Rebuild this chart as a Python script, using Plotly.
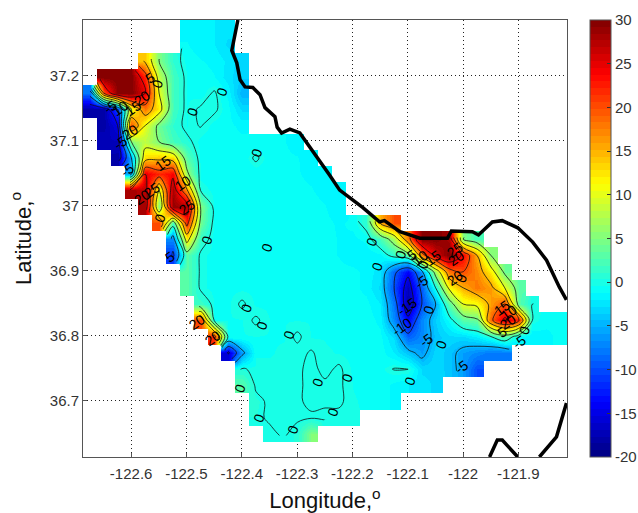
import plotly.graph_objects as go

FONT = "Liberation Sans"
LON_MIN, LON_MAX = -122.687, -121.812
LAT_MIN, LAT_MAX = 36.613, 37.286
CELL = 0.025
N_COLS, N_ROWS = 35, 27

# first occupied column of each grid row, from the north edge down
row_start = [7, 7, 4, 1, 0, 0, 1, 1, 2, 3, 3, 4, 5, 6, 6, 7, 7, 8, 8, 9, 10, 11, 11, 12, 12, 13]

# values read per grid row (colour scale -20..30)
row_values = [
    [-1.5, -2, -2, -2.5],
    [-1.2, -1.8, -2, -3],
    [14, 5, 1, -0.8, -1.2, -1.5, -2.2, -3.5],
    [30, 30, 30, 22, 8, 2, -0.5, -0.8, -1.2, -2.5, -3.5],
    [-8, 20, 30, 30, 25, 10, 2, -0.5, -0.8, 0.2, -1.5, -5],
    [-18, -18, -10, 10, 18, 12, 2, -0.5, 0.2, 0.3, -1, -3],
    [-18, -15, 20, 10, 4, 1, -0.5, 0.1, -0.8, -1, -1.5],
    [-17, -17, 5, 8, 5, 2, 0.5, -0.8, -1, -1, -1, -1.1, -1.1, -1.2, -1.6],
    [-18, -5, 13, 14, 13, 3, -0.8, -1, -1, -1, 0.3, -1, -1.1, -1.2, -1.6],
    [-5, 25, 22, 24, 6, -0.8, -1, -1, -1, -1, -1, -1.1, -1.2, -1.4, -2],
    [28, 27, 10, 28, 16, 0, -0.8, -1, -1, -1, -1, -1, -1.1, -1.2, -1.5, -2],
    [28, 5, 29, 28, 5, -0.7, -0.8, -0.8, -1, -1, -1, -1, -1, -1.2, -2],
    [20, 2, 22, 4, -0.7, -0.7, -0.8, -0.8, -0.8, -0.8, -1, -1, -1, -1.4, -1, 1, 15, 20],
    [-7, 12, 1, -0.7, -0.7, -0.7, -0.7, -0.7, -0.8, -0.8, -0.8, -1, -1.3, -1.5, -1, 2, 7, 18, 30, 30, 28, 5, 2],
    [-11, 3, -0.3, -0.7, -0.7, -0.7, -0.7, -0.7, -0.7, -0.8, -0.8, -1, -1.3, -1.8, -2, -1.5, 1, 3, 18, 26, 30, 24, 15, 5],
    [3, -0.3, -0.7, -0.7, -0.7, -0.7, -0.7, -0.7, -0.7, -0.7, -0.8, -1, -1, -1.5, -2.5, -9, -14, -6, 7, 18, 20, 17, 12, 4],
    [3, -0.3, -0.7, -0.6, -0.6, -0.6, -0.6, -0.6, -0.7, -0.7, -0.7, -1, -1, -1.5, -3, -10, -17, -9, 0, 11, 15, 18, 16, 10, 3],
    [1.5, -0.5, -0.6, 0.2, -0.6, -0.6, -0.6, -0.6, -0.6, -0.7, -0.7, -1, -1, -2, -8, -18, -10, -5, 3, 10, 11, 16, 20, 3, 0],
    [20, -0.5, -0.5, -0.5, 0.2, -0.5, -0.5, -0.5, -0.5, -0.6, -0.7, -0.7, -0.8, -1.5, -7, -14, -7, -3.5, -1, 3, 4, 19, 26, 22, 0, -1, -1],
    [22, -0.5, -0.5, -0.5, -0.5, -0.5, 0.2, -0.5, -0.5, -0.6, -0.7, -0.8, -1, -3, -9, -7, -4, -3, -3, -2, 0, 3, -2, -2, -1.5, -1],
    [-16, -6, -0.5, -0.5, -0.4, -0.3, 0.1, -0.4, -0.5, -0.7, -0.7, -0.8, -2, -4, -6, -3, -4, -6, -7, -8, -8],
    [0.2, -0.4, -0.4, -0.3, -0.2, 0.3, -0.3, 0.2, -0.6, -0.7, -0.7, 0.1, 0.1, -3, -3, -4, -6, -10],
    [3, -0.3, -0.3, -0.3, -0.2, 0.3, 0.2, 0.2, -0.5, -0.7, -0.8, -1.5, -2, -2.5, -3],
    [0.5, -0.3, -0.3, -0.2, 0.3, 0.2, 0.2, -0.4, -0.6, -0.8, -1.5],
    [0.3, -0.2, -0.3, -0.2, -0.2, -0.3, -0.3, -0.4],
    [0.3, -0.2, 0.5, 5],
]

coast_lon = [-122.407, -122.418, -122.409, -122.403, -122.394, -122.380, -122.367, -122.358,
             -122.340, -122.336, -122.328, -122.313, -122.295, -122.277, -122.241, -122.223,
             -122.181, -122.151, -122.142, -122.114, -122.078, -122.028, -122.021, -121.983,
             -121.972, -121.947, -121.929, -121.901, -121.874, -121.849, -121.826, -121.813,
             None, -121.952, -121.938, -121.929, -121.901,
             None, -121.862, -121.831, -121.813]
coast_lat = [37.286, 37.239, 37.220, 37.194, 37.183, 37.182, 37.171, 37.151,
             37.137, 37.121, 37.112, 37.118, 37.112, 37.091, 37.047, 37.024,
             36.997, 36.975, 36.977, 36.960, 36.950, 36.950, 36.961, 36.960,
             36.955, 36.975, 36.977, 36.966, 36.944, 36.916, 36.875, 36.855,
             None, 36.613, 36.639, 36.639, 36.613,
             None, 36.613, 36.644, 36.696]

label_text = ["5", "0", "0", "0", "0", "15", "10", "25", "20", "25", "0", "0", "0", "5",
              "-5", "10", "15", "20", "20", "-5", "-5",
              "0", "0", "0", "5", "10", "15", "0", "25", "20", "20", "0",
              "15", "10", "20", "5", "0", "-5", "-5", "-15", "0", "-10", "-5", "0", "-5",
              "0", "0", "0", "20", "20", "0", "0", "0", "0", "0", "0", "0"]
label_lon = [-122.566, -122.553, -122.490, -122.436, -122.373, -122.542, -122.506, -122.562,
             -122.580, -122.499, -122.548, -122.463, -122.355, -122.530,
             -122.638, -122.620, -122.596, -122.580, -122.602, -122.620, -122.607,
             -122.165, -122.156, -122.113, -122.093, -122.078, -122.055, -122.073,
             -122.015, -122.012, -122.015, -122.003,
             -121.930, -121.916, -121.919, -121.929, -121.889, -121.898, -122.075,
             -122.102, -122.062, -122.111, -122.066, -122.039, -122.003,
             -122.096, -122.210, -122.235, -122.481, -122.452, -122.391, -122.364,
             -122.315, -122.262, -122.403, -122.369, -122.308]
label_lat = [37.197, 37.188, 37.145, 37.175, 37.081, 37.066, 37.035, 37.024,
             37.014, 36.998, 36.981, 36.947, 36.935, 36.921,
             37.152, 37.151, 37.151, 37.166, 37.114, 37.097, 37.055,
             36.944, 36.906, 36.924, 36.924, 36.920, 36.920, 36.909,
             36.932, 36.920, 36.889, 36.889,
             36.843, 36.836, 36.821, 36.806, 36.809, 36.790, 36.883,
             36.844, 36.839, 36.813, 36.793, 36.787, 36.752,
             36.730, 36.735, 36.682, 36.821, 36.796, 36.842, 36.815,
             36.801, 36.728, 36.719, 36.673, 36.655]

lon_ticks = [-122.6, -122.5, -122.4, -122.3, -122.2, -122.1, -122, -121.9]
lon_labels = ["-122.6", "-122.5", "-122.4", "-122.3", "-122.2", "-122.1", "-122", "-121.9"]
lat_ticks = [36.7, 36.8, 36.9, 37, 37.1, 37.2]
lat_labels = ["36.7", "36.8", "36.9", "37", "37.1", "37.2"]
cbar_ticks = [-20, -15, -10, -5, 0, 5, 10, 15, 20, 25, 30]
cbar_labels = ["-20", "-15", "-10", "-5", "0", "5", "10", "15", "20", "25", "30"]

lons = [LON_MIN + CELL * (i + 0.5) for i in range(N_COLS)]
lats = [LAT_MAX - CELL * (j + 0.5) for j in range(N_ROWS)]
z = [[None] * N_COLS for _ in range(N_ROWS)]
for j, (start, vals) in enumerate(zip(row_start, row_values)):
    z[j][start:start + len(vals)] = vals


def jet(t):
    def ramp(a):
        return max(0.0, min(1.0, 1.5 - abs(4 * t - a)))
    return f"rgb({round(255 * ramp(3))},{round(255 * ramp(2))},{round(255 * ramp(1))})"


N_BANDS = 64
colorscale = []
for k in range(N_BANDS):
    c = jet((k + 0.5) / N_BANDS)
    colorscale += [[k / N_BANDS, c], [(k + 1) / N_BANDS, c]]

fig = go.Figure()
fig.add_trace(go.Heatmap(
    x=lons, y=lats, z=z, zmin=-20, zmax=30, zsmooth="best", colorscale=colorscale,
    hoverinfo="skip",
    colorbar=dict(
        x=1.0475, xanchor="left", y=0, yanchor="bottom", len=1, lenmode="fraction",
        thickness=21, thicknessmode="pixels", xpad=0, ypad=0,
        tickmode="array", tickvals=cbar_ticks, ticktext=cbar_labels,
        ticks="inside", ticklen=4, tickcolor="#333", tickwidth=1,
        outlinecolor="#555", outlinewidth=1,
        tickfont=dict(family=FONT, size=15, color="#333"),
    ),
))
fig.add_trace(go.Contour(
    x=lons, y=lats, z=z, autocontour=False, showscale=False, hoverinfo="skip",
    contours=dict(start=-20, end=30, size=5, coloring="none", showlabels=False),
    line=dict(color="#111", width=0.8),
))
fig.add_trace(go.Scatter(
    x=coast_lon, y=coast_lat, mode="lines", hoverinfo="skip", showlegend=False,
    line=dict(color="black", width=3.5),
))
for text, lon, lat in zip(label_text, label_lon, label_lat):
    fig.add_annotation(
        x=lon, y=lat, text=text, showarrow=False, textangle=-70 if text == "0" else -35,
        font=dict(family=FONT, size=14, color="black"),
    )

axis_common = dict(
    showgrid=True, gridcolor="#222", griddash="1px,3px", gridwidth=1, zeroline=False,
    showline=True, mirror=True, linecolor="#555", linewidth=1,
    ticks="inside", ticklen=4, tickcolor="#555",
    tickfont=dict(family=FONT, size=15, color="#333"),
)
fig.update_layout(
    width=638, height=513, autosize=False,
    margin=dict(l=83, r=71, t=20, b=56, autoexpand=False),
    paper_bgcolor="white", plot_bgcolor="white", showlegend=False,
    xaxis=dict(axis_common, range=[LON_MIN, LON_MAX], tickmode="array",
               tickvals=lon_ticks, ticktext=lon_labels, ticklabelstandoff=3,
               title=dict(text="Longitude,<sup>o</sup>", standoff=12,
                          font=dict(family=FONT, size=22, color="#111"))),
    yaxis=dict(axis_common, range=[LAT_MIN, LAT_MAX], tickmode="array",
               tickvals=lat_ticks, ticktext=lat_labels,
               title=dict(text="Latitude,<sup>o</sup>", standoff=12,
                          font=dict(family=FONT, size=22, color="#111"))),
)
fig.write_html("out.html", config={"displayModeBar": False},
               post_script="document.body.style.margin='0';document.body.style.overflow='hidden';")
